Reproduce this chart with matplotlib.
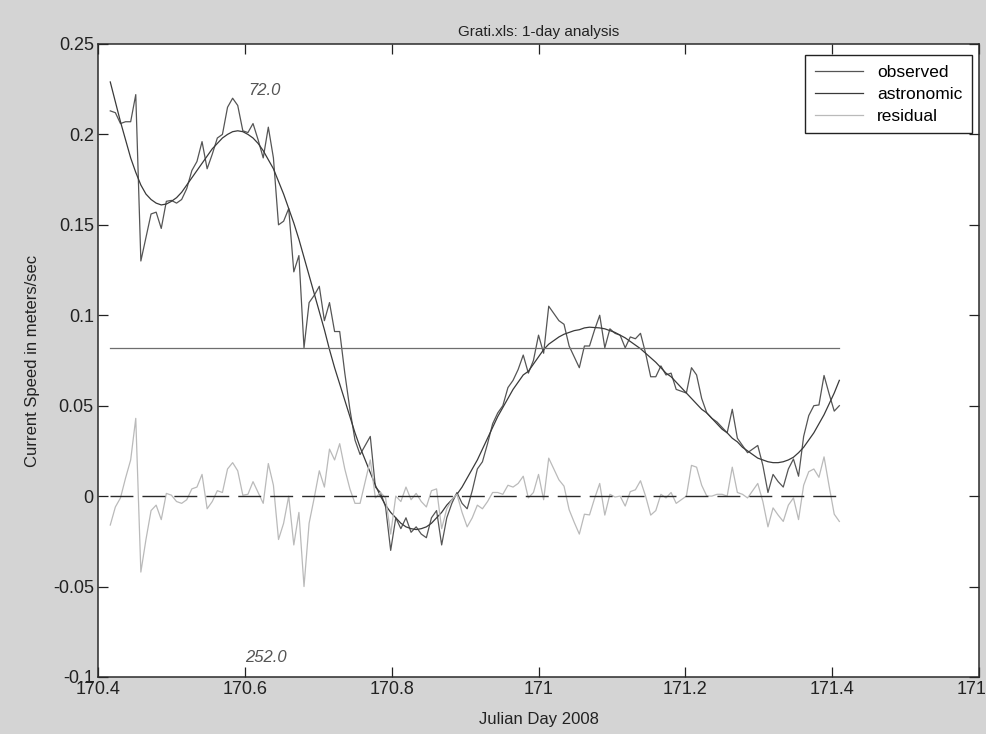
import numpy as np
import matplotlib
matplotlib.use("Agg")
import matplotlib.pyplot as plt

# 10-minute samples, Julian day 2008
start_day = 170.4167
n_samples = 144
day = start_day + np.arange(n_samples) / 144.0

observed = [
    0.213, 0.212, 0.206, 0.207, 0.207, 0.222, 0.130, 0.143, 0.156, 0.157,
    0.148, 0.163, 0.1635, 0.162, 0.164, 0.170, 0.180, 0.185, 0.196, 0.181,
    0.189, 0.198, 0.200, 0.215, 0.220, 0.216, 0.202, 0.201, 0.206, 0.197,
    0.187, 0.204, 0.187, 0.150, 0.152, 0.159, 0.124, 0.133, 0.082, 0.107,
    0.111, 0.116, 0.097, 0.107, 0.091, 0.091, 0.068, 0.048, 0.031, 0.023,
    0.028, 0.033, 0.005, 0.002, -0.006, -0.030, -0.012, -0.018, -0.012, -0.020,
    -0.017, -0.021, -0.023, -0.012, -0.008, -0.027, -0.012, -0.004, 0.002, -0.004,
    -0.007, 0.003, 0.015, 0.019, 0.029, 0.040, 0.046, 0.050, 0.060, 0.064,
    0.070, 0.078, 0.068, 0.075, 0.089, 0.079, 0.105, 0.101, 0.097, 0.095,
    0.083, 0.077, 0.071, 0.083, 0.083, 0.092, 0.100, 0.082, 0.0925, 0.090,
    0.089, 0.082, 0.088, 0.087, 0.090, 0.079, 0.066, 0.066, 0.072, 0.067,
    0.068, 0.059, 0.058, 0.057, 0.071, 0.067, 0.054, 0.046, 0.043, 0.041,
    0.038, 0.035, 0.048, 0.032, 0.028, 0.024, 0.026, 0.028, 0.017, 0.002,
    0.012, 0.008, 0.005, 0.015, 0.0205, 0.011, 0.033, 0.0445, 0.050, 0.0504,
    0.0667, 0.0565, 0.047, 0.050,
]

astronomic = [
    0.229, 0.218, 0.207, 0.197, 0.187, 0.179, 0.172, 0.167, 0.164, 0.162,
    0.161, 0.1615, 0.163, 0.165, 0.168, 0.172, 0.176, 0.180, 0.184, 0.188,
    0.192, 0.195, 0.198, 0.200, 0.2015, 0.202, 0.2015, 0.200, 0.198, 0.195,
    0.191, 0.186, 0.181, 0.174, 0.167, 0.159, 0.151, 0.142, 0.132, 0.122,
    0.112, 0.102, 0.092, 0.081, 0.071, 0.062, 0.053, 0.044, 0.035, 0.027,
    0.020, 0.013, 0.006, 0.000, -0.005, -0.009, -0.012, -0.015, -0.017, -0.018,
    -0.0185, -0.018, -0.017, -0.015, -0.012, -0.009, -0.005, -0.002, 0.001, 0.005,
    0.010, 0.015, 0.020, 0.026, 0.032, 0.038, 0.044, 0.049, 0.054, 0.059,
    0.063, 0.067, 0.069, 0.073, 0.077, 0.081, 0.084, 0.086, 0.088, 0.0895,
    0.0905, 0.0915, 0.092, 0.093, 0.0934, 0.0932, 0.093, 0.0925, 0.0915, 0.0905,
    0.089, 0.0875, 0.0855, 0.0835, 0.0815, 0.079, 0.0765, 0.074, 0.071, 0.068,
    0.066, 0.063, 0.060, 0.057, 0.054, 0.051, 0.048, 0.046, 0.043, 0.040,
    0.037, 0.035, 0.032, 0.030, 0.027, 0.025, 0.023, 0.021, 0.020, 0.019,
    0.0185, 0.0185, 0.019, 0.020, 0.0215, 0.024, 0.027, 0.031, 0.035, 0.040,
    0.045, 0.051, 0.057, 0.064,
]

# residual is observed minus astronomic tide
residual = np.array(observed) - np.array(astronomic)

mean_speed = 0.082
dir_labels = ["72.0", "252.0"]
dir_label_pos = [(170.605, 0.2245), (170.6, -0.0895)]

xticks = [170.4, 170.6, 170.8, 171.0, 171.2, 171.4, 171.6]
xticklabels = ["170.4", "170.6", "170.8", "171", "171.2", "171.4", "171.6"]
yticks = [-0.1, -0.05, 0, 0.05, 0.1, 0.15, 0.2, 0.25]
yticklabels = ["-0.1", "-0.05", "0", "0.05", "0.1", "0.15", "0.2", "0.25"]

plt.rcParams["font.family"] = ["Liberation Sans", "DejaVu Sans"]
fig_gray = "#d4d4d4"

fig = plt.figure(figsize=(9.87, 7.34), dpi=100, facecolor=fig_gray)
ax = fig.add_axes([0.0993, 0.0777, 0.8926, 0.8624])
ax.set_facecolor("white")

ax.plot(day, observed, color="#555555", lw=0.9, label="observed")
ax.plot(day, astronomic, color="#3a3a3a", lw=0.9, label="astronomic")
ax.plot(day, residual, color="#bababa", lw=0.9, label="residual")
ax.plot([day[0], day[-1]], [mean_speed, mean_speed], color="#6e6e6e", lw=0.9)
ax.plot([day[0], day[-1]], [0, 0], color="#2a2a2a", lw=1.0,
        linestyle=(0, (16.5, 6.5)))

for txt, (tx, ty) in zip(dir_labels, dir_label_pos):
    ax.text(tx, ty, txt, color="#555555", fontsize=12, style="italic",
            ha="left", va="center")

ax.set_xlim(170.4, 171.6)
ax.set_ylim(-0.1, 0.25)
ax.set_xticks(xticks)
ax.set_xticklabels(xticklabels)
ax.set_yticks(yticks)
ax.set_yticklabels(yticklabels)
ax.tick_params(direction="in", length=7, width=0.9, top=True, right=True,
               labelsize=13, colors="#222222", pad=3)
for sp in ax.spines.values():
    sp.set_color("#2b2b2b")
    sp.set_linewidth(1.1)

ax.set_xlabel("Julian Day 2008", fontsize=12, color="#222222", labelpad=10)
ax.set_ylabel("Current Speed in meters/sec", fontsize=12, color="#222222",
              labelpad=9)
ax.set_title("Grati.xls: 1-day analysis", fontsize=11, color="#222222", pad=6)

leg = ax.legend(loc="upper right", bbox_to_anchor=(0.992, 0.9826),
                borderaxespad=0, fontsize=12.5, handlelength=2.8,
                labelspacing=0.4, fancybox=False, framealpha=1,
                edgecolor="#222222", borderpad=0.55)
leg.get_frame().set_linewidth(1.0)

fig.savefig("out.png", dpi=100, facecolor=fig_gray)
